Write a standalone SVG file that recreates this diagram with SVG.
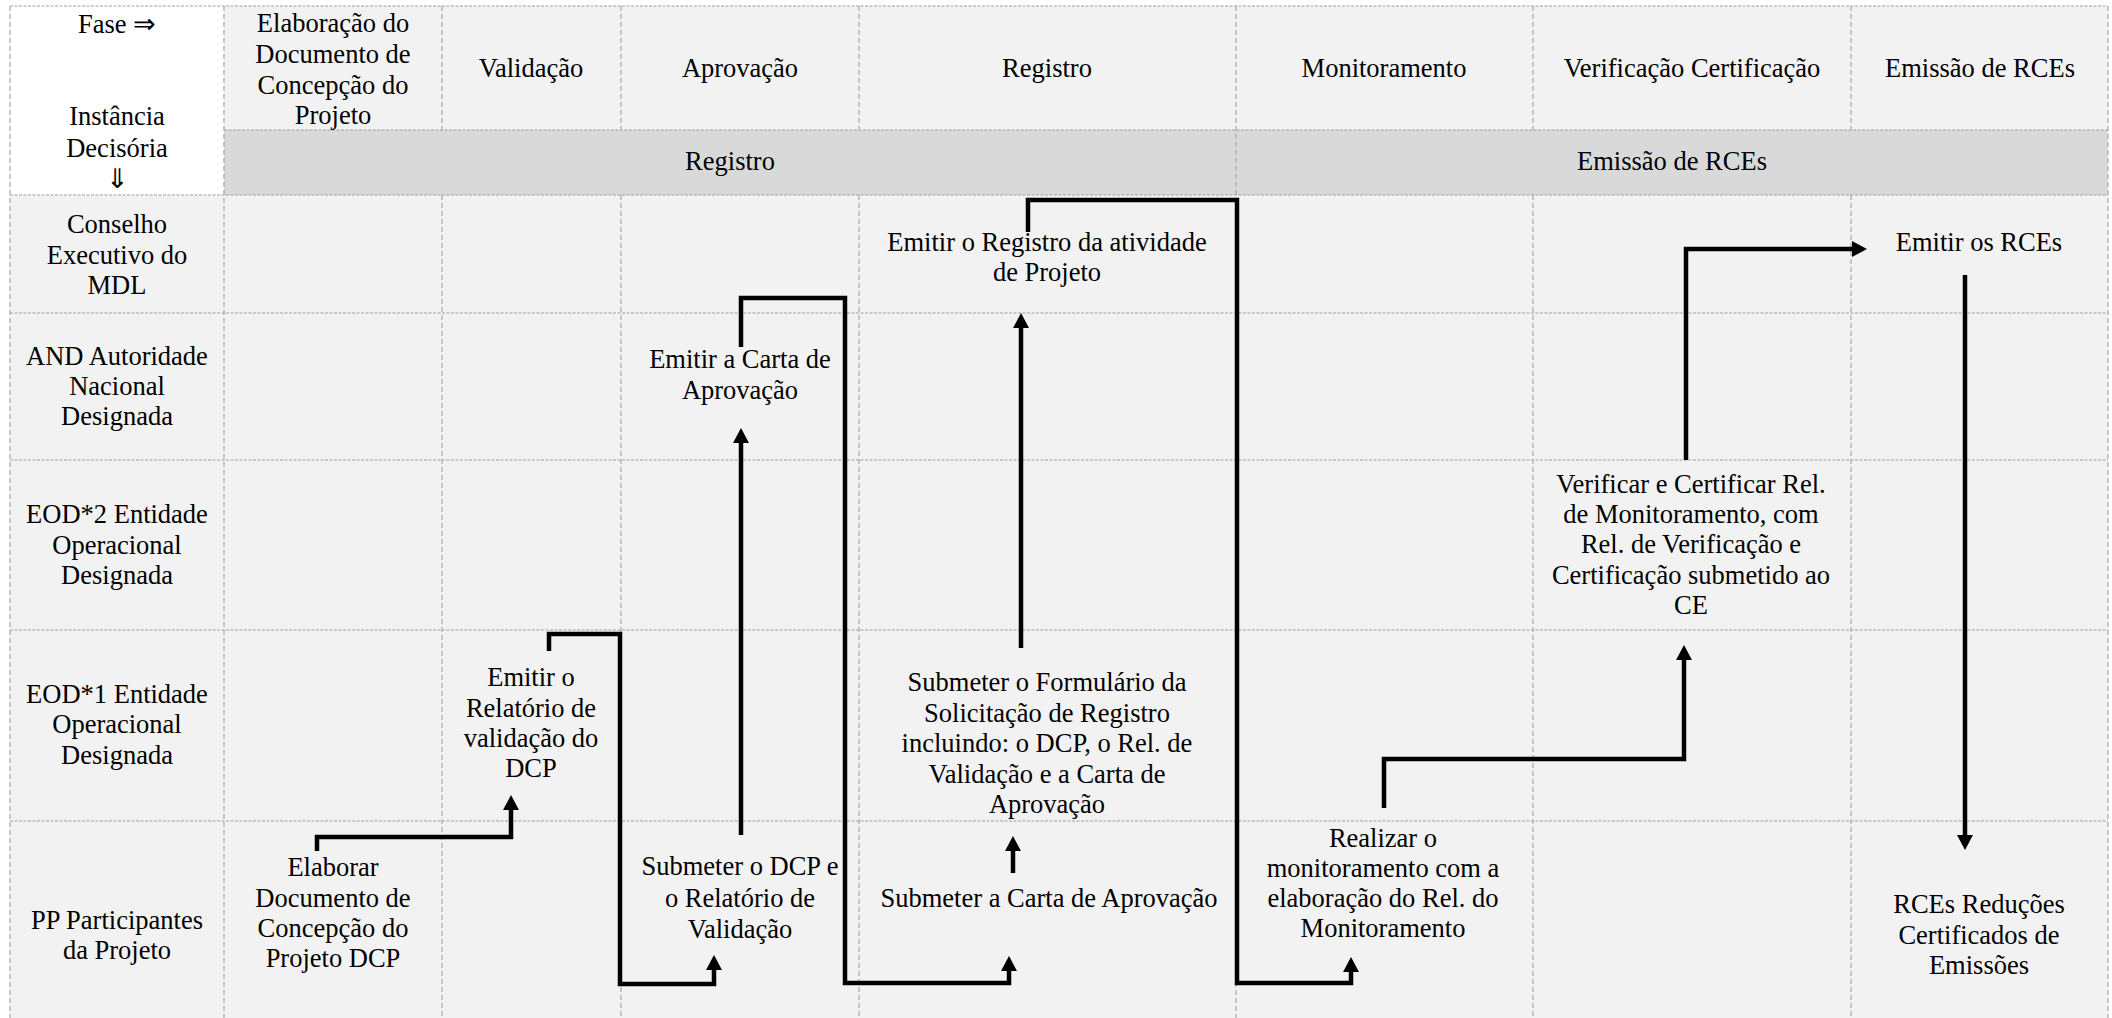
<svg xmlns="http://www.w3.org/2000/svg" width="2112" height="1018" viewBox="0 0 2112 1018">
<style>
text{font-family:"Liberation Serif","Times New Roman",serif;font-size:26.5px;fill:#000;text-anchor:middle}
.gh{stroke:#a0a0a0;stroke-width:1.2;stroke-dasharray:3 1.5;fill:none}
.gv{stroke:#a8a8a8;stroke-width:1.2;stroke-dasharray:5 3;fill:none}
.c{stroke:#000;stroke-width:4.5;fill:none;stroke-linejoin:miter}
.a{marker-end:url(#ah)}
</style>
<defs>
<marker id="ah" viewBox="0 0 15 16" refX="0" refY="8" markerWidth="15" markerHeight="16" markerUnits="userSpaceOnUse" orient="auto">
<path d="M0,0 L15,8 L0,16 z" fill="#000"/>
</marker>
</defs>
<rect x="0" y="0" width="2112" height="1018" fill="#fff"/>
<g id="backgrounds">
<rect x="224" y="6" width="1884" height="124" fill="#f2f2f2"/>
<rect x="224" y="130" width="1884" height="65" fill="#d9d9d9"/>
<rect x="10" y="195" width="2098" height="823" fill="#f2f2f2"/>
</g>
<g id="grid">
<path class="gh" d="M10,6H2108 M224,130H2108 M10,195H2108 M10,313H2108 M10,460H2108 M10,630H2108 M10,821H2108"/>
<path class="gv" d="M10,6V1018 M224,6V1018 M1236,6V1018 M2108,6V1018 M442,6V130 M621,6V130 M859,6V130 M1533,6V130 M1851,6V130 M442,195V1018 M621,195V1018 M859,195V1018 M1533,195V1018 M1851,195V1018"/>
</g>
<g id="corner"><text x="117" y="33">Fase ⇒</text><text x="117" y="125">Instância</text><text x="117" y="157">Decisória</text><text x="117" y="188">⇓</text></g>
<g id="phase-elaboracao"><text x="333" y="32">Elaboração do</text><text x="333" y="63">Documento de</text><text x="333" y="94">Concepção do</text><text x="333" y="124">Projeto</text></g>
<g id="phase-validacao"><text x="531" y="77">Validação</text></g>
<g id="phase-aprovacao"><text x="740" y="77">Aprovação</text></g>
<g id="phase-registro"><text x="1047" y="77">Registro</text></g>
<g id="phase-monitoramento"><text x="1384" y="77">Monitoramento</text></g>
<g id="phase-verificacao"><text x="1692" y="77">Verificação Certificação</text></g>
<g id="phase-emissao"><text x="1980" y="77">Emissão de RCEs</text></g>
<g id="band-registro"><text x="730" y="170">Registro</text></g>
<g id="band-emissao"><text x="1672" y="170">Emissão de RCEs</text></g>
<g id="row-conselho"><text x="117" y="233">Conselho</text><text x="117" y="264">Executivo do</text><text x="117" y="294">MDL</text></g>
<g id="row-and"><text x="117" y="365">AND Autoridade</text><text x="117" y="395">Nacional</text><text x="117" y="425">Designada</text></g>
<g id="row-eod2"><text x="117" y="523">EOD*2 Entidade</text><text x="117" y="554">Operacional</text><text x="117" y="584">Designada</text></g>
<g id="row-eod1"><text x="117" y="703">EOD*1 Entidade</text><text x="117" y="733">Operacional</text><text x="117" y="764">Designada</text></g>
<g id="row-pp"><text x="117" y="929">PP Participantes</text><text x="117" y="959">da Projeto</text></g>
<g id="n-emitir-registro"><text x="1047" y="251">Emitir o Registro da atividade</text><text x="1047" y="281">de Projeto</text></g>
<g id="n-emitir-rces"><text x="1979" y="251">Emitir os RCEs</text></g>
<g id="n-emitir-carta"><text x="740" y="368">Emitir a Carta de</text><text x="740" y="399">Aprovação</text></g>
<g id="n-verificar"><text x="1691" y="493">Verificar e Certificar Rel.</text><text x="1691" y="523">de Monitoramento, com</text><text x="1691" y="553">Rel. de Verificação e</text><text x="1691" y="584">Certificação submetido ao</text><text x="1691" y="614">CE</text></g>
<g id="n-emitir-relatorio"><text x="531" y="686">Emitir o</text><text x="531" y="717">Relatório de</text><text x="531" y="747">validação do</text><text x="531" y="777">DCP</text></g>
<g id="n-submeter-formulario"><text x="1047" y="691">Submeter o Formulário da</text><text x="1047" y="722">Solicitação de Registro</text><text x="1047" y="752">incluindo: o DCP, o Rel. de</text><text x="1047" y="783">Validação e a Carta de</text><text x="1047" y="813">Aprovação</text></g>
<g id="n-elaborar"><text x="333" y="876">Elaborar</text><text x="333" y="907">Documento de</text><text x="333" y="937">Concepção do</text><text x="333" y="967">Projeto DCP</text></g>
<g id="n-submeter-dcp"><text x="740" y="875">Submeter o DCP e</text><text x="740" y="907">o Relatório de</text><text x="740" y="938">Validação</text></g>
<g id="n-submeter-carta"><text x="1049" y="907">Submeter a Carta de Aprovação</text></g>
<g id="n-realizar"><text x="1383" y="847">Realizar o</text><text x="1383" y="877">monitoramento com a</text><text x="1383" y="907">elaboração do Rel. do</text><text x="1383" y="937">Monitoramento</text></g>
<g id="n-rces"><text x="1979" y="913">RCEs Reduções</text><text x="1979" y="944">Certificados de</text><text x="1979" y="974">Emissões</text></g>
<g id="connectors">
<path class="c a" d="M317,851 V837 H511 V810"/>
<path class="c a" d="M549,651 V634 H620 V984 H714 V970"/>
<path class="c a" d="M741,835 V443"/>
<path class="c a" d="M741,347 V298 H845 V983 H1009 V971"/>
<path class="c a" d="M1013,873 V851"/>
<path class="c a" d="M1021,648 V328"/>
<path class="c a" d="M1028,232 V200 H1237 V983 H1351 V972"/>
<path class="c a" d="M1384,808 V759 H1684 V660"/>
<path class="c a" d="M1686,460 V249 H1852"/>
<path class="c a" d="M1965,275 V835"/>
</g>
</svg>
